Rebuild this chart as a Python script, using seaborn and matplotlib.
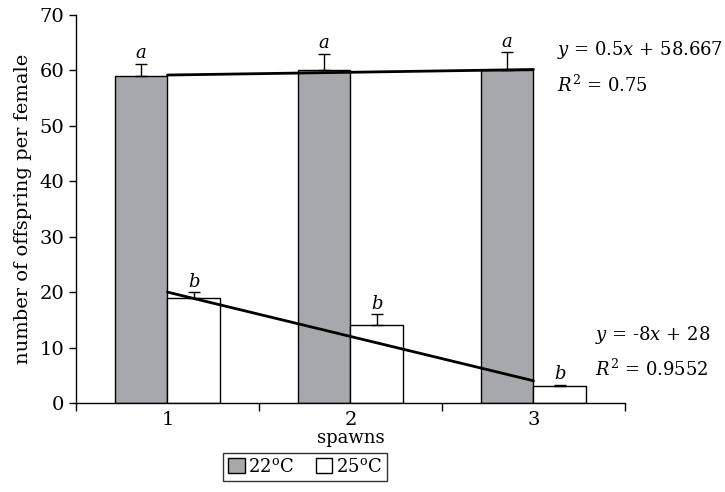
import numpy as np
import pandas as pd
import matplotlib
matplotlib.use("Agg")
import matplotlib.pyplot as plt
import seaborn as sns

# data
spawns = ["1", "2", "3"]
temps = ["22°C", "25°C"]
mean_22 = [59, 60, 60]
mean_25 = [19, 14, 3]
err_22 = [2.2, 3.0, 3.3]
err_25 = [1.0, 2.0, 0.3]
letters_22 = ["a", "a", "a"]
letters_25 = ["b", "b", "b"]
eq_22 = [r"$y$ = 0.5$x$ + 58.667", r"$R^2$ = 0.75"]
eq_25 = [r"$y$ = -8$x$ + 28", r"$R^2$ = 0.9552"]

df = pd.DataFrame({
    "spawn": spawns * 2,
    "temp": [temps[0]] * 3 + [temps[1]] * 3,
    "offspring": mean_22 + mean_25,
})

sns.set_style("ticks")
plt.rcParams["font.family"] = ["DejaVu Serif"]
plt.rcParams["mathtext.fontset"] = "dejavuserif"
plt.rcParams["font.size"] = 13
for key in ["text.color", "axes.labelcolor", "xtick.color", "ytick.color"]:
    plt.rcParams[key] = "black"

fig = plt.figure(figsize=(7.25, 4.92), dpi=100)
ax = fig.add_axes([0.1048, 0.181, 0.7572, 0.7885])

sns.barplot(data=df, x="spawn", y="offspring", hue="temp", order=spawns,
            hue_order=temps, palette=["#a7a8ab", "white"], width=0.575,
            edgecolor="black", linewidth=1, errorbar=None, legend=False,
            saturation=1, ax=ax)

# error bars (upper only) and significance letters
for cont, means, errs, lets in zip(ax.containers, [mean_22, mean_25],
                                   [err_22, err_25], [letters_22, letters_25]):
    xs = [p.get_x() + p.get_width() / 2 for p in cont.patches]
    ax.errorbar(xs, means, yerr=[np.zeros(len(errs)), errs], fmt="none",
                ecolor="black", elinewidth=1, capsize=4, capthick=1)
    for x, m, e, t in zip(xs, means, errs, lets):
        ax.annotate(f"${t}$", (x, m + e), xytext=(0, 1), textcoords="offset points",
                    ha="center", va="bottom", fontsize=13)

# linear trend lines
xi = np.arange(len(spawns))
for means in [mean_22, mean_25]:
    k, b = np.polyfit(xi + 1, means, 1)
    ax.plot([xi[0], xi[-1]], [k * (xi[0] + 1) + b, k * (xi[-1] + 1) + b],
            color="black", lw=2, zorder=5)

ax.text(2.126, 63.7, eq_22[0], va="center", ha="left", fontsize=13)
ax.text(2.126, 57.4, eq_22[1], va="center", ha="left", fontsize=13)
ax.text(2.339, 12.3, eq_25[0], va="center", ha="left", fontsize=13)
ax.text(2.339, 6.0, eq_25[1], va="center", ha="left", fontsize=13)

ax.set_xlim(-0.5, 2.5)
ax.set_ylim(0, 70)
ax.set_yticks(range(0, 71, 10))
ax.set_xticks(xi, spawns)
ax.set_xticks(np.arange(-0.5, 2.6, 1), minor=True)
ax.tick_params(axis="both", which="major", labelsize=14)
ax.tick_params(axis="x", which="major", length=0, pad=6)
ax.tick_params(axis="x", which="minor", length=6, width=1, color="black")
ax.tick_params(axis="y", length=5, width=1, color="black")
ax.set_xlabel("spawns", labelpad=0, fontsize=13)
ax.set_ylabel("number of offspring per female", labelpad=5, fontsize=14)
sns.despine(ax=ax)
for s in ["left", "bottom"]:
    ax.spines[s].set_color("black")
    ax.spines[s].set_linewidth(1)

handles = [plt.Rectangle((0, 0), 1, 1, facecolor=c, edgecolor="black", lw=1)
           for c in ["#a7a8ab", "white"]]
fig.legend(handles, [r"22$^{\rm o}$C", r"25$^{\rm o}$C"], loc="center",
           bbox_to_anchor=(305 / 725, 1 - 467 / 492), ncol=2, frameon=True,
           fancybox=False, edgecolor="black", handlelength=0.9, handleheight=0.9,
           handletextpad=0.2, columnspacing=1.2, borderpad=0.3, fontsize=13)

fig.savefig("out.png", dpi=100)
